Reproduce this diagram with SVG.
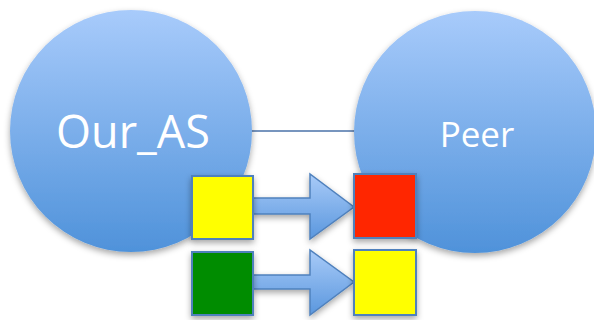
<svg xmlns="http://www.w3.org/2000/svg" width="594" height="320" viewBox="0 0 594 320">
<defs>
<linearGradient id="gc" x1="0" y1="0" x2="0" y2="1">
<stop offset="0" stop-color="#a8cbfb"/>
<stop offset="1" stop-color="#4f92da"/>
</linearGradient>
<linearGradient id="ga" x1="0" y1="0" x2="0" y2="1">
<stop offset="0" stop-color="#a9cbf8"/>
<stop offset="1" stop-color="#5a97de"/>
</linearGradient>
<filter id="sh" x="-20%" y="-20%" width="140%" height="140%">
<feDropShadow dx="0" dy="3" stdDeviation="3" flood-color="#000" flood-opacity="0.35"/>
</filter>
</defs>
<style>
.circ{fill:url(#gc);filter:url(#sh)}
.lbl{fill:#fff;font-family:"Open Sans","Liberation Sans",sans-serif;text-anchor:middle}
.sq{stroke:#4f81bd;stroke-width:2;filter:url(#sh)}
.arr{fill:url(#ga);stroke:#4f81bd;stroke-width:1.5;filter:url(#sh)}
</style>
<rect width="594" height="320" fill="#fff"/>
<g id="connectors">
<line x1="250" y1="131" x2="357" y2="131" stroke="#4a72a8" stroke-width="1.5"/>
</g>
<g id="our_as">
<circle class="circ" cx="131" cy="131" r="121"/>
<text class="lbl" x="133" y="148" font-size="45">Our_AS</text>
</g>
<g id="peer">
<circle class="circ" cx="475" cy="132" r="121"/>
<text class="lbl" x="477" y="147" font-size="35">Peer</text>
</g>
<g id="arrow1">
<polygon class="arr" points="253,198 310,198 310,174 354,207 310,239 310,214 253,214"/>
</g>
<g id="arrow2">
<polygon class="arr" points="253,275 310,275 310,250 354,282 310,315 310,289 253,289"/>
</g>
<g id="sq_yellow_left"><rect class="sq" x="192" y="176" width="61" height="63" fill="#ffff00"/></g>
<g id="sq_green"><rect class="sq" x="192" y="252" width="61" height="63" fill="#008c00"/></g>
<g id="sq_red"><rect class="sq" x="354" y="174" width="62" height="64" fill="#ff2600"/></g>
<g id="sq_yellow_right"><rect class="sq" x="354" y="250" width="62" height="65" fill="#ffff00"/></g>
</svg>
